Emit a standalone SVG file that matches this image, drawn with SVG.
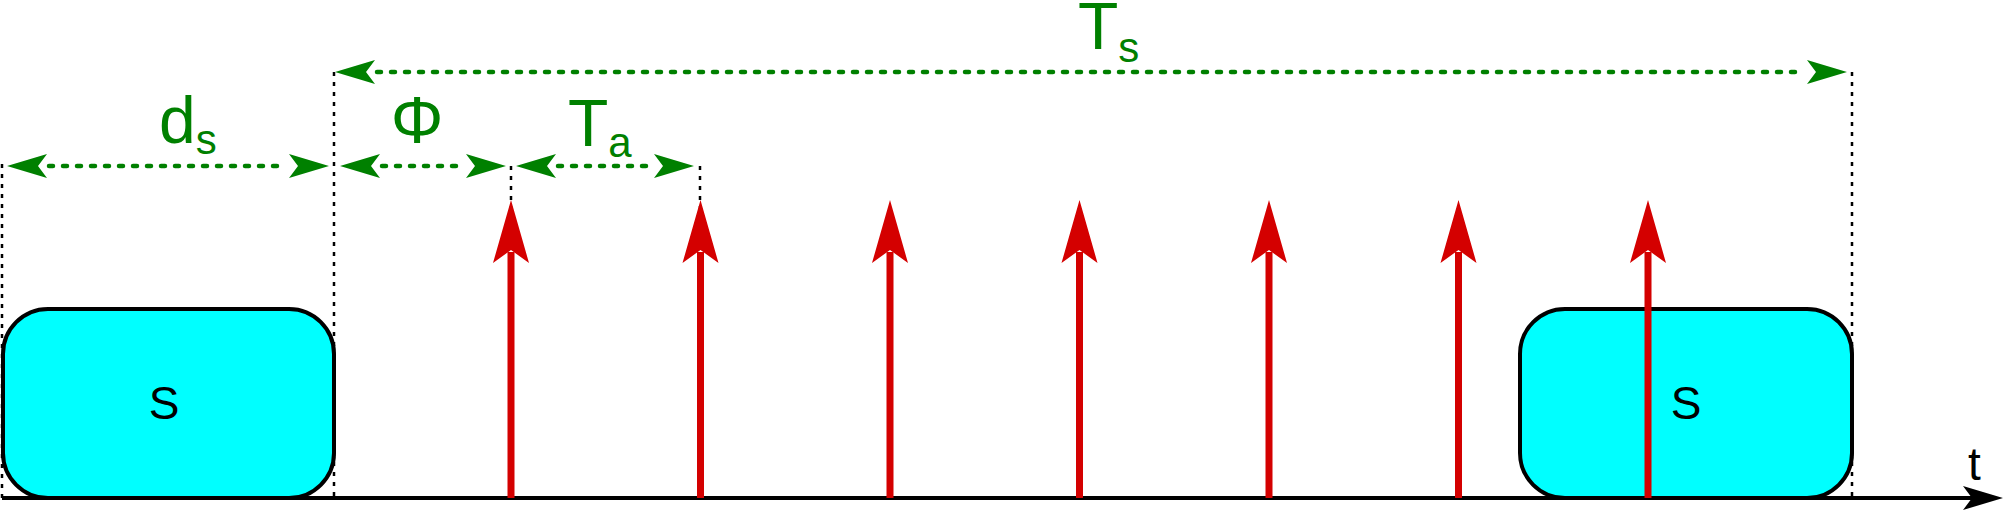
<svg xmlns="http://www.w3.org/2000/svg" width="2004" height="511" viewBox="0 0 2004 511">
<style>
.box{fill:#00ffff;stroke:#000;stroke-width:4}
.lbl{font-family:"Liberation Sans",Arial,sans-serif;fill:#000}
.glbl{font-family:"Liberation Sans",Arial,sans-serif;fill:#008000}
.dot{stroke:#000;stroke-width:2.5;stroke-dasharray:4 6;fill:none}
.dim{stroke:#008000;stroke-width:4.5;stroke-dasharray:4 10;stroke-linecap:round;fill:none}
.ghead{fill:#008000}
.red{stroke:#d40000;stroke-width:7;fill:none}
.rhead{fill:#d40000}
</style>
<defs>
<path id="gh" d="M0,0 L40,-12 L31,0 L40,12 Z"/>
<path id="rh" d="M0,0 L18,63 L0,50 L-18,63 Z"/>
<path id="kh" d="M0,0 L-40,-12 L-31,0 L-40,12 Z"/>
</defs>
<g id="box-left">
<rect class="box" x="3" y="309" width="331" height="189" rx="45" ry="45"/>
<text class="lbl" x="164" y="419" font-size="46" text-anchor="middle">S</text>
</g>
<g id="box-right">
<rect class="box" x="1520" y="309" width="332" height="189" rx="45" ry="45"/>
<text class="lbl" x="1686" y="419" font-size="46" text-anchor="middle">S</text>
</g>
<g id="connectors">
<line class="dot" x1="2" y1="164" x2="2" y2="498"/>
<line class="dot" x1="334" y1="72" x2="334" y2="498"/>
<line class="dot" x1="511" y1="166" x2="511" y2="498"/>
<line class="dot" x1="700" y1="166" x2="700" y2="498"/>
<line class="dot" x1="1852" y1="72" x2="1852" y2="498"/>
<line x1="2" y1="498" x2="1975" y2="498" stroke="#000" stroke-width="4"/>
<use href="#kh" x="2003" y="498" fill="#000"/>
<line class="dim" x1="377" y1="72" x2="1805" y2="72"/>
<use href="#gh" class="ghead" x="335" y="72"/>
<use href="#gh" class="ghead" transform="translate(1847,72) scale(-1,1)"/>
<line class="dim" x1="49" y1="166" x2="287" y2="166"/>
<use href="#gh" class="ghead" x="7" y="166"/>
<use href="#gh" class="ghead" transform="translate(329,166) scale(-1,1)"/>
<line class="dim" x1="382" y1="166" x2="464" y2="166"/>
<use href="#gh" class="ghead" x="340" y="166"/>
<use href="#gh" class="ghead" transform="translate(506,166) scale(-1,1)"/>
<line class="dim" x1="558" y1="166" x2="652" y2="166"/>
<use href="#gh" class="ghead" x="516" y="166"/>
<use href="#gh" class="ghead" transform="translate(694,166) scale(-1,1)"/>
<g id="pulses">
<line class="red" x1="511" y1="252" x2="511" y2="498"/><use href="#rh" class="rhead" x="511" y="200"/>
<line class="red" x1="700.5" y1="252" x2="700.5" y2="498"/><use href="#rh" class="rhead" x="700.5" y="200"/>
<line class="red" x1="890" y1="252" x2="890" y2="498"/><use href="#rh" class="rhead" x="890" y="200"/>
<line class="red" x1="1079.5" y1="252" x2="1079.5" y2="498"/><use href="#rh" class="rhead" x="1079.5" y="200"/>
<line class="red" x1="1269" y1="252" x2="1269" y2="498"/><use href="#rh" class="rhead" x="1269" y="200"/>
<line class="red" x1="1458.5" y1="252" x2="1458.5" y2="498"/><use href="#rh" class="rhead" x="1458.5" y="200"/>
<line class="red" x1="1648" y1="252" x2="1648" y2="498"/><use href="#rh" class="rhead" x="1648" y="200"/>
</g>
</g>
<g id="labels">
<text class="glbl" x="159" y="143" font-size="66">d<tspan font-size="42" dy="11">s</tspan></text>
<text class="glbl" x="417" y="143" font-size="66" text-anchor="middle">Φ</text>
<text class="glbl" x="568" y="146" font-size="66">T<tspan font-size="42" dy="11">a</tspan></text>
<text class="glbl" x="1078" y="49" font-size="66">T<tspan font-size="42" dy="13">s</tspan></text>
<text class="lbl" x="1968" y="480" font-size="46">t</text>
</g>
</svg>
